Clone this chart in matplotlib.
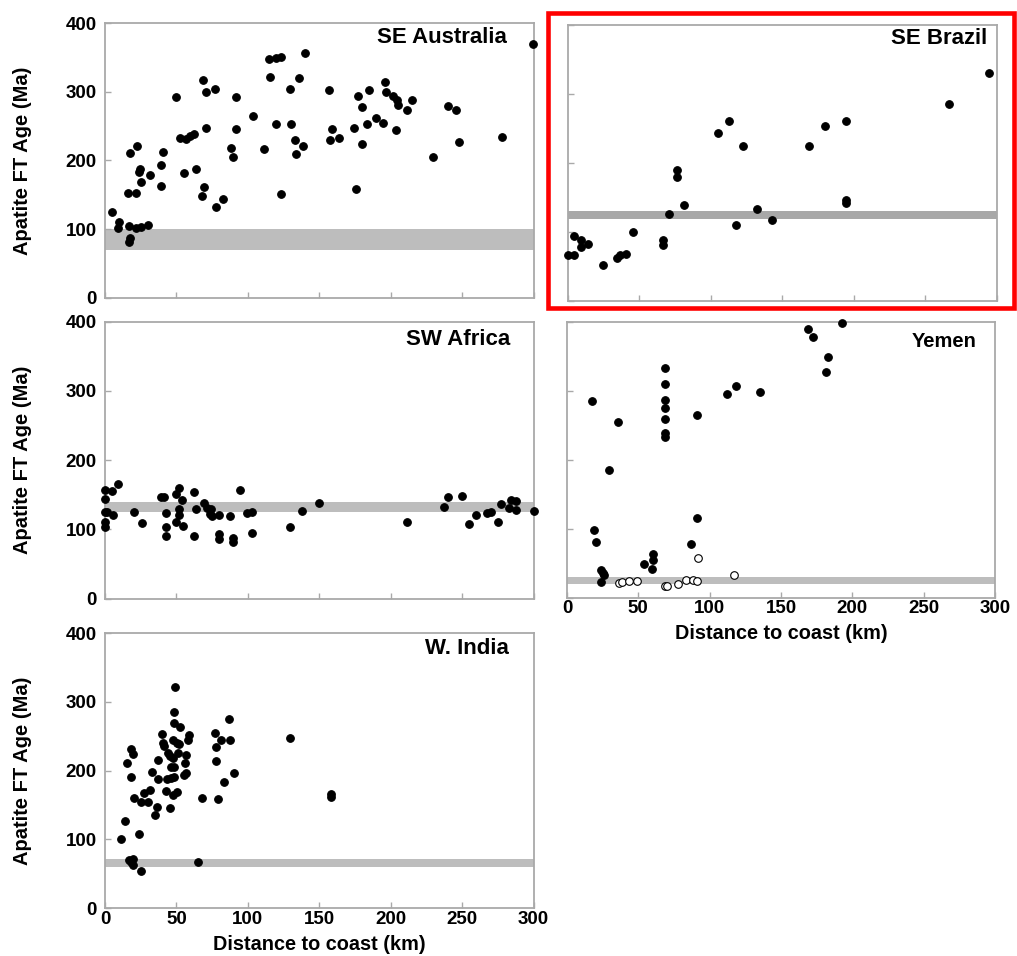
import matplotlib
matplotlib.use("Agg")
import matplotlib.pyplot as plt
from matplotlib.patches import Rectangle

plt.rcParams['font.family'] = ['Liberation Sans', 'DejaVu Sans']
plt.rcParams['font.weight'] = 'bold'

# ---------------- data: distance to coast (km) and apatite FT age (Ma) ----------------
aus_dist = [5, 10, 9, 17, 17.5, 17, 22, 25, 30, 16, 22, 25, 24, 24.7, 31.5, 17.5, 22.6,
            39.4, 39.4, 40.4, 49.7, 52.5, 56.5, 59.5, 62.3, 55.5, 63.5, 67.7, 69.5, 68.6,
            70.7, 70.7, 77, 77.7, 82.8, 88, 89.9, 91.7, 91.7, 103.4, 111.5, 114.6, 115.8,
            119.7, 123.2, 119.7, 123.5, 129.7, 130.4, 132.8, 133.7, 135.9, 138.6, 140,
            156.9, 158.7, 157.6, 163.9, 176, 174.6, 176.9, 179.8, 179.8, 183.7, 185.1,
            189.8, 194.9, 196.1, 197, 201.9, 204.7, 205, 203.8, 211.7, 215, 229.9, 240,
            245.8, 247.9, 277.8, 299.5]
aus_age = [125, 110, 101, 105, 87, 81, 101, 103, 106, 152, 152, 168, 183, 188, 178, 210, 221,
           163, 193, 212, 292, 232, 231, 236, 239, 181, 188, 148, 161, 317,
           300, 247, 304, 132, 144, 218, 205, 292, 246, 265, 217, 347, 322,
           349, 350, 253, 151, 304, 253, 230, 209, 320, 221, 357,
           303, 245, 230, 232, 158, 247, 294, 277, 224, 253, 302,
           261, 254, 314, 300, 293, 288, 280, 244, 273, 288, 205, 279,
           274, 227, 234, 369]
aus_band = (70, 100)

bra_dist = [0.4, 4.3, 4.3, 9.5, 9.5, 14.6, 24.6, 34.4, 37, 40.7, 45.8, 66.6, 66.6, 70.6,
            76.4, 76.4, 81.5, 105.5, 112.7, 117.6, 122.3, 132.5, 142.6, 168.5, 179.6,
            194.6, 194.6, 194.6, 266.6, 294.8]
bra_age = [66, 66, 93, 88, 78, 82, 52, 61, 66, 67, 99, 88, 81, 125,
           190, 180, 139, 243, 261, 109, 225, 133, 117, 225, 253,
           261, 146, 141, 285, 330]
bra_band = (119, 130)

swa_dist = [0, 4.7, 8.9, 0, 0, 1.6, 5.8, 0, 0, 20.5, 25.7, 39.2, 41.5, 42.5, 42.5, 42.5,
            49.7, 51.6, 53.7, 51.6, 52, 49.7, 54.6, 62.1, 63.7, 62.1, 69.5, 71.7, 74.2,
            73.5, 74.9, 79.8, 79.8, 79.8, 87.5, 89.9, 89.9, 94.8, 99.7, 102.7, 102.7,
            129.8, 137.7, 149.9, 211.7, 237.2, 240, 250, 255.1, 259.8, 267.3, 270.3,
            275, 277.3, 282.7, 284.5, 287.8, 287.8, 300]
swa_age = [157, 156, 166, 144, 125, 125, 120, 111, 103, 125, 109, 147, 147, 124, 104, 90,
           151, 160, 142, 130, 121, 111, 105, 154, 129, 90, 138, 131, 129,
           122, 119, 120, 93, 86, 119, 88, 82, 157, 124, 125, 95,
           104, 126, 138, 111, 132, 146, 148, 107, 120, 124, 125,
           111, 136, 131, 142, 141, 128, 126]
swa_band = (125, 139)

yem_dist = [17.5, 18.9, 20.3, 23.8, 25.5, 26.2, 23.8, 29.4, 36, 54.2, 60.5, 60, 59.6,
            68.7, 68.7, 68.7, 68.7, 68.7, 68.7, 68.7, 90.9, 90.9, 87.1, 112, 118.5,
            135.1, 169.2, 172.2, 193, 182.7, 181.6]
yem_age = [286, 98, 80, 40, 35, 33, 22, 185, 255, 49, 63, 55, 42,
           333, 310, 287, 275, 259, 239, 233, 265, 116, 78, 296, 308,
           298, 390, 379, 399, 349, 328]
yem_open_dist = [36.7, 38.5, 43.7, 49.3, 68.7, 70.3, 77.8, 83.4, 88.6, 91.1, 91.8, 117.1]
yem_open_age = [21, 22, 23.5, 24, 17, 17, 19, 25, 25, 24, 58, 32]
yem_band = (19, 30)

ind_dist = [11.2, 13.8, 24, 17, 19.4, 18.4, 19.4, 25.4, 65.1, 15.6, 18.4, 19.6, 18.4, 20.5,
            25, 27.5, 30.3, 31.3, 32.7, 34.8, 36.6, 37.3, 37.3, 40.1, 40.4, 41.5, 42.5,
            43.2, 44.1, 45.7, 45.7, 46, 46.3, 47.4, 47.4, 47.8, 48.3, 48.3, 49.2, 48.3,
            48.3, 50.2, 50.6, 51.1, 51.8, 52.5, 55.5, 56.2, 56.7, 56.7, 58.3, 59, 68.1,
            77.3, 77.9, 77.9, 81, 79.1, 83.3, 86.6, 87.5, 90.1, 129.6, 158, 158]
ind_age = [100, 126, 108, 69.5, 72, 67, 62, 53.5, 67, 211, 232, 224, 191, 160.5,
           154, 167, 154, 172, 198, 136, 147, 216, 188, 253.5, 240, 235, 170,
           187, 226, 145, 221, 205, 189, 165, 218, 244, 269, 285.5, 321, 205,
           190, 169, 240, 226, 238, 263, 194, 211, 222.5, 196, 244, 252, 160.5,
           255, 234, 214, 245, 158, 183, 275, 245, 197, 248, 166, 162]
ind_band = (60, 72)

x_ticks = [0, 50, 100, 150, 200, 250, 300]
y_ticks = [0, 100, 200, 300, 400]
x_label = "Distance to coast (km)"
y_label = "Apatite FT Age (Ma)"

# ---------------- figure ----------------
W, H = 1017, 956
fig = plt.figure(figsize=(W / 100, H / 100), dpi=100)


def add_panel(left, top, right, bottom):
    return fig.add_axes([left / W, 1 - bottom / H, (right - left) / W, (bottom - top) / H])


SPINE = '#a9a9a9'
BAND = '#bdbdbd'


def style(ax, band, band_color, name, name_size, name_off, xlab, ylab):
    ax.set_xlim(0, 300)
    ax.set_ylim(0, 400)
    ax.axhspan(band[0], band[1], color=band_color, lw=0, zorder=1)
    for s in ax.spines.values():
        s.set_color(SPINE)
        s.set_linewidth(1.3)
    ax.set_xticks(x_ticks)
    ax.set_yticks(y_ticks)
    ax.tick_params(direction='in', length=4.5, width=1.0, color=SPINE,
                   labelsize=13.5, labelcolor='black')
    ax.tick_params(axis='x', pad=2)
    ax.tick_params(axis='y', pad=6)
    if xlab:
        ax.set_xlabel(x_label, fontsize=14.3, fontweight='bold', labelpad=5)
    else:
        ax.tick_params(axis='x', labelbottom=False)
    if ylab:
        ax.set_ylabel(y_label, fontsize=14.5, fontweight='bold', labelpad=24)
    else:
        ax.tick_params(axis='y', labelleft=False)
    for lbl in ax.get_xticklabels() + ax.get_yticklabels():
        lbl.set_fontweight('bold')
    ax.annotate(name, xy=(1, 1), xycoords='axes fraction',
                xytext=(-name_off[0] * 0.72, -name_off[1] * 0.72), textcoords='offset points',
                ha='right', va='top', fontsize=name_size, fontweight='bold')


def dots(ax, xs, ys, face='black'):
    ax.scatter(xs, ys, s=30, c=face, edgecolors='black', linewidths=0.8,
               zorder=3, clip_on=False)


ax_aus = add_panel(105, 23, 533.5, 297.7)
style(ax_aus, aus_band, BAND, "SE Australia", 16, (27, 4), False, True)
dots(ax_aus, aus_dist, aus_age)

ax_bra = add_panel(567.5, 25, 996.8, 300.5)
style(ax_bra, bra_band, '#a8a8a8', "SE Brazil", 16, (10, 3), False, False)
dots(ax_bra, bra_dist, bra_age)

ax_swa = add_panel(105, 321.7, 533.5, 598.5)
style(ax_swa, swa_band, BAND, "SW Africa", 16, (23, 7), False, True)
dots(ax_swa, swa_dist, swa_age)

ax_yem = add_panel(567, 322.3, 995, 597.5)
style(ax_yem, yem_band, BAND, "Yemen", 14.5, (18, 10), True, False)
dots(ax_yem, yem_dist, yem_age)
dots(ax_yem, yem_open_dist, yem_open_age, face='white')

ax_ind = add_panel(105, 633, 533.5, 908.1)
style(ax_ind, ind_band, BAND, "W. India", 16, (25, 5), True, True)
dots(ax_ind, ind_dist, ind_age)

# red frame around the SE Brazil panel
fig.add_artist(Rectangle((547.5 / W, 1 - 308.3 / H), (1014 - 547.5) / W, (308.3 - 13.3) / H,
                         transform=fig.transFigure, fill=False, edgecolor='#ff0000',
                         linewidth=3.3, zorder=10))

fig.savefig("out.png", dpi=100, facecolor='white')
